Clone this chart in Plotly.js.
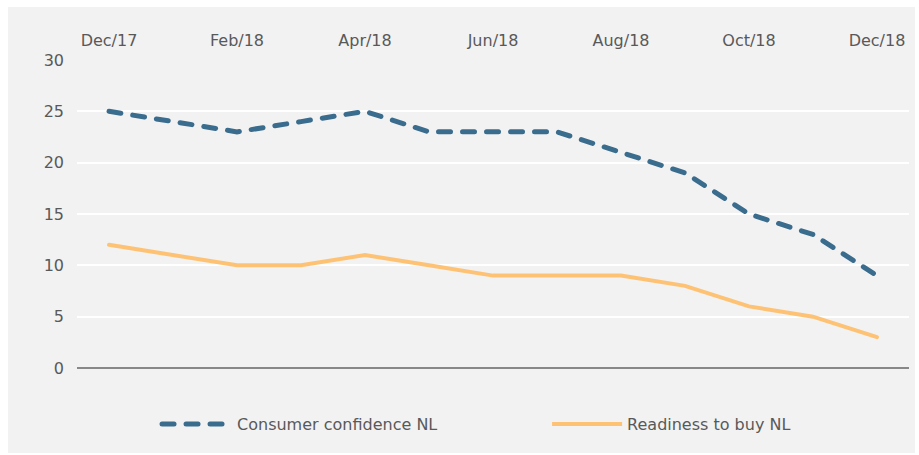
<!DOCTYPE html>
<html>
<head>
<meta charset="utf-8">
<script src="https://cdn.plot.ly/plotly-3.0.1.min.js"></script>
<style>
html, body { margin: 0; padding: 0; background: #ffffff; width: 919px; height: 455px; overflow: hidden; }
#chart { position: absolute; left: 8px; top: 7px; width: 907px; height: 446px; }
.scatterlayer .js-line { stroke-linecap: round; }
.legend .js-line { stroke-linecap: round; }
</style>
</head>
<body>
<div id="chart"></div>
<script>
const months = ["Dec/17","Jan/18","Feb/18","Mar/18","Apr/18","May/18","Jun/18","Jul/18","Aug/18","Sep/18","Oct/18","Nov/18","Dec/18"];
const consumerConfidence = [25, 24, 23, 24, 25, 23, 23, 23, 21, 19, 15, 13, 9];
const readinessToBuy = [12, 11, 10, 10, 11, 10, 9, 9, 9, 8, 6, 5, 3];
const tickLabels = ["Dec/17","Feb/18","Apr/18","Jun/18","Aug/18","Oct/18","Dec/18"];

const traces = [
  {
    x: months, y: consumerConfidence, type: 'scatter', mode: 'lines',
    name: 'Consumer confidence NL', legend: 'legend',
    line: { color: '#3a6c8e', width: 5, dash: '12px,12px' }
  },
  {
    x: months, y: readinessToBuy, type: 'scatter', mode: 'lines',
    name: 'Readiness to buy NL', legend: 'legend2',
    line: { color: '#fec275', width: 4 }
  }
];

const legendStyle = {
  orientation: 'h', xanchor: 'left', y: -0.182, yanchor: 'middle',
  font: { size: 16, color: '#595959' }, itemwidth: 70, bgcolor: 'rgba(0,0,0,0)'
};

const layout = {
  width: 907, height: 446,
  paper_bgcolor: '#f2f2f2', plot_bgcolor: '#f2f2f2',
  margin: { l: 69, r: 6, t: 53, b: 85 },
  font: { family: 'DejaVu Sans, Verdana, sans-serif', size: 16, color: '#595959' },
  showlegend: true,
  legend: Object.assign({}, legendStyle, { x: 0.0962 }),
  legend2: Object.assign({}, legendStyle, { x: 0.565 }),
  xaxis: {
    type: 'category', side: 'top', range: [-0.5, 12.5],
    tickvals: tickLabels, ticktext: tickLabels,
    showgrid: false, zeroline: false, showline: false, ticks: '',
    ticklabelstandoff: 10, fixedrange: true
  },
  yaxis: {
    range: [0, 30], dtick: 5, tick0: 0,
    showgrid: true, gridcolor: '#ffffff', gridwidth: 2,
    zeroline: true, zerolinecolor: '#888888', zerolinewidth: 2,
    showline: false, ticks: '', ticklabelstandoff: 12, fixedrange: true
  }
};

Plotly.newPlot('chart', traces, layout, { displayModeBar: false, staticPlot: true });
</script>
</body>
</html>
